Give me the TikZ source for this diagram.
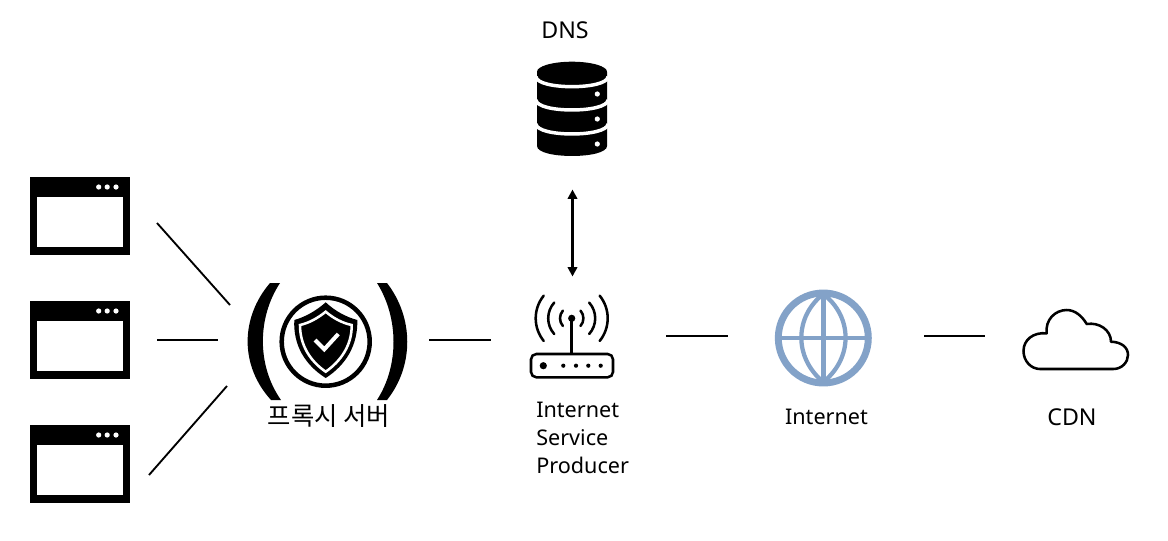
\documentclass[tikz,border=0pt]{standalone}
\usepackage{fontspec}
\setmainfont{Noto Sans}
\newfontfamily\krfont{Noto Sans CJK KR}
\usetikzlibrary{arrows.meta}
\definecolor{globeblue}{HTML}{83A2C8}
\tikzset{
  x=0.75pt,y=-0.75pt,
  link/.style={draw=black,line width=1.4pt},
  dblarrow/.style={draw=black,line width=1.9pt,{Triangle[length=7pt,width=7pt]}-{Triangle[length=7pt,width=7pt]}},
  label/.style={inner sep=0pt,font=\fontsize{16.2}{21}\selectfont,text=black},
  capslabel/.style={label,font=\fontsize{17.4}{21}\selectfont},
  wave/.style={draw=black,line width=1.9pt,line cap=round},
  globeline/.style={draw=globeblue},
}
\newcommand{\browserwin}[1]{%
  \fill[black] (30,#1) rectangle (130,#1+78);
  \fill[white] (37,#1+20) rectangle (123,#1+70);
  \foreach \dx in {98.7,107.2,116}{\fill[white] (\dx,#1+10) circle[radius=2.6];}
}
\begin{document}
\begin{tikzpicture}
\useasboundingbox (0,0) rectangle (1168,540);
\fill[white] (0,0) rectangle (1168,540);
% browsers
\browserwin{177}
\browserwin{301}
\browserwin{425}
% connector ends
\coordinate (w1) at (157,223); \coordinate (p1) at (230,305);
\coordinate (w2) at (157,340); \coordinate (p2) at (218,340);
\coordinate (w3) at (149,475); \coordinate (p3) at (227,386);
\coordinate (p4) at (429,340); \coordinate (r1) at (491,340);
\coordinate (r2) at (666,336); \coordinate (g1) at (728,336);
\coordinate (g2) at (924,336); \coordinate (c1) at (985,336);
\coordinate (d1) at (572.5,189.5); \coordinate (r3) at (572.5,276.5);
\draw[link] (w1) -- (p1);
\draw[link] (w2) -- (p2);
\draw[link] (w3) -- (p3);
\draw[link] (p4) -- (r1);
\draw[link] (r2) -- (g1);
\draw[link] (g2) -- (c1);
\draw[dblarrow] (d1) -- (r3);
% parens
\fill[black] (270,283) .. controls (240,318) and (240,366) .. (271,400) -- (281,400) .. controls (257,366) and (257,318) .. (280,283) -- cycle;
\fill[black] (387,283) .. controls (414,318) and (414,366) .. (387,400) -- (377,400) .. controls (399,366) and (399,318) .. (377,283) -- cycle;
% shield
\draw[black,line width=3.4pt] (325.7,341.7) circle[radius=44];
\fill[black] (325.7,302.3) .. controls (316,311) and (305,317) .. (294.3,320) .. controls (293,345) and (305,365) .. (325.7,378) .. controls (346,365) and (358,345) .. (357.3,320) .. controls (346,317) and (335,311) .. (325.7,302.3) -- cycle;
\draw[white,line width=1.9pt] (325.7,311.7) .. controls (318,318) and (309,323) .. (300,325) .. controls (300,345) and (310,361) .. (325.7,371.7) .. controls (341,361) and (352,345) .. (351.7,325) .. controls (342,323) and (333,318) .. (325.7,311.7) -- cycle;
\draw[white,line width=3pt] (315,340) -- (324.3,349.3) -- (338.3,334);
% DNS
\fill[black] (537,72) -- (537,146) .. controls (537,159.3) and (607,159.3) .. (607,146) -- (607,72) -- cycle;
\fill[black] (572,71.7) ellipse[x radius=35,y radius=10];
\foreach \yy in {76.7,100,124}{
  \draw[white,line width=2.6pt] (536,\yy) .. controls (537,\yy+13.3) and (607,\yy+13.3) .. (608,\yy);
}
\foreach \yy in {94,119,144}{\fill[white] (597.3,\yy) circle[radius=2.6];}
% router
\draw[black,line width=1.9pt,rounded corners=4pt] (531,354) rectangle (613,377.3);
\draw[black,line width=1.9pt] (571.7,318.3) -- (571.7,354);
\fill[black] (571.7,318.3) circle[radius=3.6];
\fill[black] (543.3,365.7) circle[radius=3.6];
\foreach \xx in {563.3,576,588.3,600.7}{\fill[black] (\xx,365.7) circle[radius=2.1];}
\foreach \rr/\aa in {11.7/41,23.5/42,36/39}{
  \draw[wave] (571.7,318.3) ++(180-\aa:\rr) arc (180-\aa:180+\aa:\rr);
  \draw[wave] (571.7,318.3) ++(-\aa:\rr) arc (-\aa:\aa:\rr);
}
% globe
\draw[globeline,line width=5.2pt] (823.3,338) circle[radius=45];
\draw[globeline,line width=3.6pt] (823.3,294) -- (823.3,382);
\draw[globeline,line width=3.2pt] (778,338) -- (868,338);
\draw[globeline,line width=3.2pt] (823.3,294) .. controls (794,317) and (794,358) .. (823.3,382) .. controls (853,358) and (853,317) .. (823.3,294) -- cycle;
% cloud
\draw[black,line width=1.9pt,line join=round] (1040,369) -- (1113.3,369) .. controls (1122,369) and (1128,362) .. (1128,355) .. controls (1128,347) and (1121,342) .. (1111,341.7) .. controls (1111,330) and (1099,322) .. (1086.7,324) .. controls (1082,316) and (1075,310) .. (1066.7,310) .. controls (1055,310) and (1045,320) .. (1046.7,333.3) .. controls (1033,332) and (1023.5,340) .. (1023.5,351) .. controls (1023.5,361) and (1031,369) .. (1040,369) -- cycle;
% labels
\node[capslabel] (dns) at (565,30) {DNS};
\node[label,font=\fontsize{19}{21}\krfont] (proxy) at (329,416) {프록시 서버};
\node[label,anchor=north west,align=left] (isp) at (536,402) {Internet\\Service\\Producer};
\node[label] (inet) at (826.5,417) {Internet};
\node[capslabel] (cdn) at (1072,417) {CDN};
\end{tikzpicture}
\end{document}
